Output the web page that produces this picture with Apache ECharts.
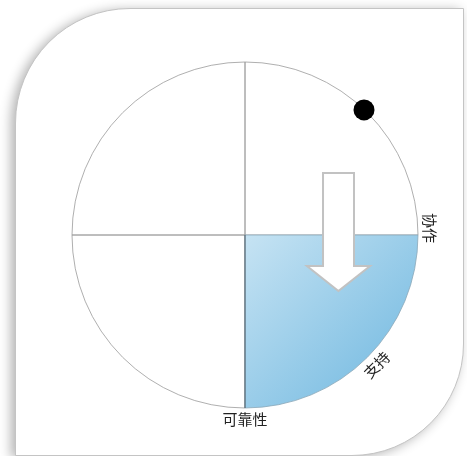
<!DOCTYPE html>
<html>
<head>
<meta charset="utf-8">
<script src="https://cdn.jsdelivr.net/npm/echarts@6/dist/echarts.min.js"></script>
<style>
  html, body { margin: 0; padding: 0; background: #fff; }
  .card {
    position: absolute;
    left: 15px;
    top: 8px;
    width: 447px;
    height: 446px;
    background: #fff;
    border: 1px solid #c4c4c4;
    border-radius: 115px 0 112px 0;
    box-shadow: -4px 2px 12px rgba(0, 0, 0, 0.3);
  }
  #chart {
    position: absolute;
    left: 0;
    top: 0;
    width: 467px;
    height: 456px;
  }
</style>
</head>
<body>
<div class="card"></div>
<div id="chart"></div>
<script>
// 四个象限（数据空间角度，逆时针，度）
const quadrantStart = [0, 90, 180, 270]
const quadrantEnd = [90, 180, 270, 360]
const quadrantHighlight = [0, 0, 0, 1]

// 圆周上的黑点
const dotPoints = [[0.688, 0.723]]

// 向下箭头的多边形顶点
const arrowX = [0.451, 0.630, 0.630, 0.723, 0.540, 0.358, 0.451]
const arrowY = [0.358, 0.358, -0.179, -0.179, -0.324, -0.179, -0.179]

// 圆外标签
const labelTexts = ['协作', '支持', '可靠性']
const labelAngles = [2.2, -44.6, -90]
const labelRadius = [1.07, 1.07, 1.066]
const labelRotate = [-90, 45, 0]

const chart = echarts.init(document.getElementById('chart'))

const toRad = (d) => d * Math.PI / 180

const quadrantData = quadrantStart.map((s, i) => [s, quadrantEnd[i], quadrantHighlight[i]])
const labelData = labelTexts.map((t, i) => [
  labelRadius[i] * Math.cos(toRad(labelAngles[i])),
  labelRadius[i] * Math.sin(toRad(labelAngles[i])),
  labelRotate[i],
  t
])

const option = {
  animation: false,
  backgroundColor: 'transparent',
  grid: { left: 72, right: 49, top: 62, bottom: 48 },
  xAxis: { type: 'value', min: -1, max: 1, show: false },
  yAxis: { type: 'value', min: -1, max: 1, show: false },
  series: [
    {
      type: 'custom',
      name: 'quadrants',
      data: quadrantData,
      renderItem: (params, api) => {
        const c = api.coord([0, 0])
        const r = api.size([1, 1])[0]
        const hi = api.value(2) === 1
        // 屏幕角度为顺时针，取负
        const sector = {
          type: 'sector',
          shape: {
            cx: c[0], cy: c[1], r0: 0, r: r,
            startAngle: -toRad(api.value(1)),
            endAngle: -toRad(api.value(0)),
            clockwise: true
          },
          style: hi ? {
            fill: new echarts.graphic.LinearGradient(0, 0, 1, 1, [
              { offset: 0, color: '#c6e3f3' },
              { offset: 1, color: '#6cb6df' }
            ]),
            stroke: '#8aa7b8',
            lineWidth: 0.8
          } : {
            fill: 'rgba(255,255,255,0)',
            stroke: '#9a9a9a',
            lineWidth: 0.8
          },
          z2: hi ? 2 : 1
        }
        if (!hi) return sector
        // 高亮象限左侧的深色边
        return {
          type: 'group',
          children: [
            sector,
            {
              type: 'line',
              shape: { x1: c[0], y1: c[1], x2: c[0], y2: c[1] + r },
              style: { stroke: '#4a5a66', lineWidth: 1 },
              z2: 3
            }
          ]
        }
      }
    },
    {
      type: 'custom',
      name: 'arrow',
      data: [0],
      z: 3,
      renderItem: (params, api) => {
        const pts = arrowX.map((x, i) => api.coord([x, arrowY[i]]))
        return {
          type: 'polygon',
          shape: { points: pts },
          style: { fill: '#fff', stroke: '#c2c2c2', lineWidth: 2 }
        }
      }
    },
    {
      type: 'scatter',
      name: 'dot',
      data: dotPoints,
      symbol: 'circle',
      symbolSize: 21,
      itemStyle: { color: '#000', opacity: 1 },
      z: 4
    },
    {
      type: 'custom',
      name: 'labels',
      data: labelData,
      z: 5,
      renderItem: (params, api) => {
        const p = api.coord([api.value(0), api.value(1)])
        return {
          type: 'text',
          x: p[0],
          y: p[1],
          rotation: toRad(api.value(2)),
          style: {
            text: labelTexts[params.dataIndex],
            fontSize: 15,
            fontFamily: 'Noto Sans CJK SC',
            fill: '#222',
            align: 'center',
            verticalAlign: 'middle'
          }
        }
      }
    }
  ]
}

chart.setOption(option)
</script>
</body>
</html>
